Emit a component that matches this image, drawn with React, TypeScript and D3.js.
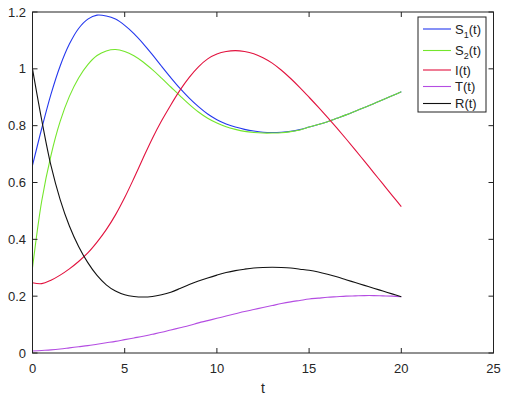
import { FC } from 'react';
import * as d3 from 'd3';

// time grid and series
const tValues = d3.range(0, 20.01, 0.5);

const s1Values = [
  0.66, 0.79, 0.91, 1.01, 1.087, 1.142, 1.175, 1.189, 1.186, 1.175, 1.153,
  1.124, 1.089, 1.05, 1.009, 0.969, 0.931, 0.897, 0.867, 0.841, 0.821, 0.806,
  0.795, 0.787, 0.781, 0.777, 0.776, 0.777, 0.78, 0.786, 0.795, 0.804, 0.814,
  0.826, 0.838, 0.851, 0.864, 0.877, 0.891, 0.905, 0.919,
];
const s2Values = [
  0.3, 0.535, 0.695, 0.815, 0.903, 0.968, 1.015, 1.047, 1.063, 1.068, 1.061,
  1.046, 1.024, 0.997, 0.967, 0.936, 0.905, 0.875, 0.848, 0.826, 0.809,
  0.796, 0.787, 0.78, 0.776, 0.774, 0.774, 0.775, 0.779, 0.785, 0.795, 0.804,
  0.814, 0.826, 0.838, 0.851, 0.864, 0.877, 0.891, 0.905, 0.919,
];
const iValues = [
  0.247, 0.244, 0.256, 0.274, 0.296, 0.322, 0.352, 0.39, 0.434, 0.486, 0.547,
  0.615, 0.686, 0.755, 0.817, 0.873, 0.925, 0.97, 1.007, 1.035, 1.052,
  1.061, 1.064, 1.061, 1.053, 1.039, 1.02, 0.995, 0.966, 0.934, 0.9, 0.865,
  0.829, 0.792, 0.754, 0.715, 0.675, 0.635, 0.595, 0.555, 0.515,
];
const tCellValues = [
  0.007, 0.009, 0.011, 0.014, 0.018, 0.022, 0.026, 0.031, 0.036, 0.041,
  0.047, 0.053, 0.059, 0.066, 0.073, 0.081, 0.089, 0.097, 0.106, 0.114,
  0.122, 0.13, 0.138, 0.146, 0.153, 0.16, 0.167, 0.174, 0.18, 0.185, 0.19,
  0.193, 0.196, 0.198, 0.2, 0.201, 0.202, 0.202, 0.201, 0.2, 0.198,
];
const rValues = [
  1.0, 0.82, 0.66, 0.54, 0.447, 0.375, 0.318, 0.273, 0.24, 0.218, 0.205,
  0.199, 0.197, 0.199, 0.205, 0.214, 0.227, 0.241, 0.253, 0.264, 0.274,
  0.283, 0.29, 0.295, 0.299, 0.301, 0.302, 0.301, 0.299, 0.295, 0.291,
  0.285, 0.277, 0.268, 0.258, 0.248, 0.238, 0.228, 0.218, 0.208, 0.198,
];

const xTicks = [0, 5, 10, 15, 20, 25];
const yTicks = [0, 0.2, 0.4, 0.6, 0.8, 1, 1.2];

const series = [
  { name: 'S', sub: '1', values: s1Values, color: '#2438ee' },
  { name: 'S', sub: '2', values: s2Values, color: '#74e62c' },
  { name: 'I', sub: '', values: iValues, color: '#e2123e' },
  { name: 'T', sub: '', values: tCellValues, color: '#b44de2' },
  { name: 'R', sub: '', values: rValues, color: '#111111' },
];

const W = 507;
const H = 400;
const left = 32.5;
const right = 493.5;
const top = 12;
const bottom = 353;
const tickLen = 5;
const font = '"Liberation Sans", Arial, sans-serif';

const App: FC = () => {
  const x = d3.scaleLinear().domain([0, 25]).range([left, right]);
  const y = d3.scaleLinear().domain([0, 1.2]).range([bottom, top]);

  const line = d3
    .line<number>()
    .x((_d, i) => x(tValues[i]))
    .y(d => y(d))
    .curve(d3.curveCatmullRom.alpha(0.5));

  // legend box
  const lgX = 418;
  const lgY = 17;
  const lgW = 68;
  const lgH = 95;
  const rowY = [29, 50.5, 70, 86.5, 103.5];

  return (
    <svg
      width={W}
      height={H}
      style={{ position: 'absolute', left: 0, top: 0, background: '#fff' }}
    >
      <rect x={0} y={0} width={W} height={H} fill="#fff" />

      {series.map(s => (
        <path
          key={s.name + s.sub}
          d={line(s.values) ?? ''}
          fill="none"
          stroke={s.color}
          strokeWidth={1.1}
        />
      ))}

      {/* axes box */}
      <rect
        x={left}
        y={top}
        width={right - left}
        height={bottom - top}
        fill="none"
        stroke="#222"
        strokeWidth={1}
      />

      {xTicks.map(t => (
        <g key={'x' + t}>
          <line x1={x(t)} x2={x(t)} y1={bottom} y2={bottom - tickLen} stroke="#222" />
          <line x1={x(t)} x2={x(t)} y1={top} y2={top + tickLen} stroke="#222" />
          <text
            x={x(t)}
            y={373}
            textAnchor="middle"
            fontFamily={font}
            fontSize={13}
            fill="#262626"
          >
            {t}
          </text>
        </g>
      ))}

      {yTicks.map(v => (
        <g key={'y' + v}>
          <line x1={left} x2={left + tickLen} y1={y(v)} y2={y(v)} stroke="#222" />
          <line x1={right} x2={right - tickLen} y1={y(v)} y2={y(v)} stroke="#222" />
          <text
            x={26}
            y={y(v) + 4.5}
            textAnchor="end"
            fontFamily={font}
            fontSize={13}
            fill="#262626"
          >
            {v}
          </text>
        </g>
      ))}

      <text
        x={(left + right) / 2}
        y={393}
        textAnchor="middle"
        fontFamily={font}
        fontSize={14}
        fill="#262626"
      >
        t
      </text>

      {/* legend */}
      <rect x={lgX} y={lgY} width={lgW} height={lgH} fill="#fff" stroke="#222" />
      {series.map((s, i) => (
        <g key={'lg' + i}>
          <line
            x1={423}
            x2={451}
            y1={rowY[i]}
            y2={rowY[i]}
            stroke={s.color}
            strokeWidth={1.1}
          />
          <text
            x={455}
            y={rowY[i] + 4.5}
            fontFamily={font}
            fontSize={13}
            fill="#222"
          >
            {s.name}
            {s.sub ? (
              <tspan fontSize={9} dy={4}>
                {s.sub}
              </tspan>
            ) : null}
            <tspan dy={s.sub ? -4 : 0}>(t)</tspan>
          </text>
        </g>
      ))}
    </svg>
  );
};

export default App;
